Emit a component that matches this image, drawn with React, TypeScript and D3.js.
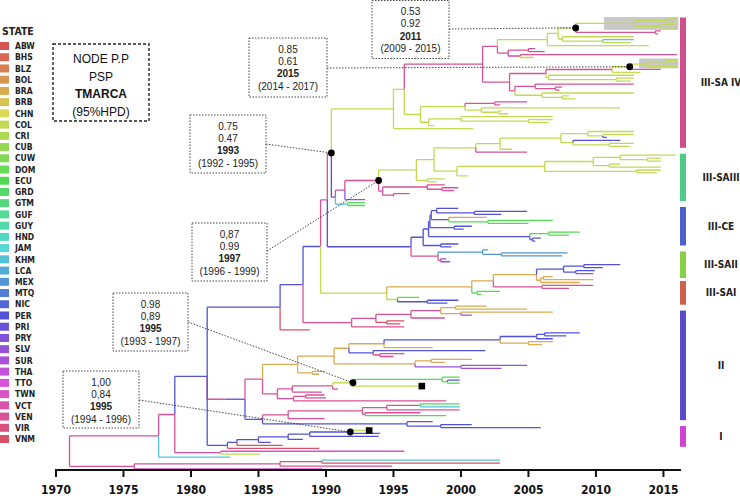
import React, { useMemo } from "react";
import * as d3 from "d3";

const W = 740;
const H = 499;

const states = ["ABW","BHS","BLZ","BOL","BRA","BRB","CHN","COL","CRI","CUB","CUW","DOM","ECU","GRD","GTM","GUF","GUY","HND","JAM","KHM","LCA","MEX","MTQ","NIC","PER","PRI","PRY","SLV","SUR","THA","TTO","TWN","VCT","VEN","VIR","VNM"];

const yearTicks = [1970, 1975, 1980, 1985, 1990, 1995, 2000, 2005, 2010, 2015];

// ---- tree data (Newick-like: STATE@year#tag) ----
const dotA = "(((COL@2016,COL@2016)COL@2015.3,(COL@2015.8,COL@2016)COL@2014.8)COL@2012.9#H1,(VEN@2014.8,VEN@2014.6)VEN@2014.4)COL@2008.5#A";
const q1 = `((${dotA},(COL@2012.8,(KHM@2012.8,COL@2012.6)COL@2010.5)COL@2007.5)COL@2007.2,COL@2013.9)COL@2006.4`;
const q2 = "((VEN@2005.5,VEN@2006.2)VEN@2005,(VEN@2016,COL@2005.4)VEN@2004.4)VEN@2003.5";
const dotB = "(((COL@2016,COL@2016)COL@2015.2,COL@2016)COL@2013.8#H2,VEN@2014.8)COL@2012.5#B";
const r2a = `((${dotB},COL@2013.3)VEN@2011.2,(COL@2012.8,(COL@2012.8,COL@2012.6)COL@2011.5)COL@2006.5)VEN@2006.3`;
const r2b = "((VEN@2012.8,(VEN@2007.5,VEN@2007.3)VEN@2007)VEN@2005.5,(COL@2012.8,(COL@2008,COL@2008.5)COL@2007.5)COL@2006)VEN@2004.0";
const uSub = "(((VEN@2004.9,VEN@2002.9)VEN@2002.5,(COL@2011.8,(COL@2003,COL@2003.5)COL@2002.8)COL@2001.5)COL@2000.3,((COL@2006.8,(COL@2006.8,COL@2006.5)COL@2005)COL@2000.0,COL@1998)COL@1997.6)COL@1997.0";
const cladeSA4 = `((((${q1},${q2})VEN@2002.7,(${r2a},${r2b})VEN@2003.6)VEN@2001.6,${uSub})COL@1995.8,COL@2000.9)COL@1995.0`;

const d1f = "((COL@2012.8,(COL@2012.8,PER@2010.8)COL@2010.5)COL@2009.4,(PER@2011.8,(COL@2012.8,COL@2012.5)COL@2011)COL@2008.3)COL@2007.4";
const d1g = "(((COL@2015.9,(COL@2014.8,COL@2014.8)COL@2013.8)COL@2011.8,(COL@2011.8,COL@2014.8)COL@2011)COL@2009.8,(COL@2014.8,COL@2014.5)COL@2013)COL@2006.2";
const d1 = `((((${d1f},COL@2003.8)COL@2002.9,VEN@2004.9)COL@2001.1,(${d1g},COL@2000.5)COL@1999.7)COL@1998.0,(COL@1998.8,COL@1998.2)COL@1997.5)COL@1996.7`;
const d2 = "((VEN@1998.8,(VEN@1999.8,VEN@1999.5)VEN@1998.6)VEN@1997.5,(VEN@1996.2,VEN@1995)VEN@1995.0)VEN@1994.2";
const cladeSA3 = `(((${d1},${d2})VEN@1993.9#D,SLV@1992.9)VEN@1991.4,(ECU@1992.9,ECU@1992.9)KHM@1991.6)PER@1990.7`;

const ceA = "((PER@1999.8,(PER@2004.9,PER@2003)PER@2001)PER@1998.2,(BRA@2001.9,(ECU@2006.8,ECU@2005)ECU@2002)PER@1999.1)PER@1997.8";
const ceC = `((${ceA},(PER@2000.8,PER@2000.2)PER@1999.5)PER@1997.7,((ECU@2008.8,ECU@2008)ECU@2006.5,(PER@2005.9,PER@2005.5)PER@2005.3)PER@2005.1)PER@1997.6`;
const ceM = "((MEX@2002,(MEX@2007.9,MEX@2007.5)MEX@2003)MEX@2001.6,(SLV@1998.9,SLV@1999.2)VEN@1998.5)VEN@1998.3";
const cladeCE = `((${ceC},(PER@1999.8,PER@1999.3)PER@1998.5)PER@1997.2,${ceM})PER@1996.3`;

const sa3 = "((PER@2011.8,PER@2010.5)PER@2009.1,(PER@2009.9,SLV@2009.8)PER@2008.5)PER@2007.6";
const cladeSA2 = `((((${sa3},((BRA@2006.8,BRA@2009.8)BRA@2006.1,BRA@2008.8)BRA@2005.9)BRA@2005.6,(VEN@2009.8,VEN@2008)VEN@2006)BRA@2002.4,(ECU@2002.9,ECU@2001.5)ECU@2001.2)BRA@2000.8,(ECU@1996.9,(PER@1999.8,PER@1999)PER@1997.5)COL@1995.3)COL@1994.5`;

const g440 = "((BRA@2001.9,BRA@2004.9)BRA@1999.6,(BRA@2006.8,SLV@2000.8)BRA@2000)VEN@1998.5";
const cladeSA1 = `(((${g440},VEN@1998.8)VEN@1996.3,(VNM@1995.8,VNM@1995.5)VNM@1994.5)VEN@1993.7,VEN@1995.8)VEN@1991.9`;

const o5 = "(((((PER@2008.8,PER@2007.8)PER@2006.2,PER@2006.8)PER@2005.6,(BRA@2006.8,BRA@2006)BRA@2005)PER@2002.9,BRA@1997.9)BRA@1994.3";
const o4 = "((BRA@2000.8,BRA@1998.8)BRA@1997.8,(SLV@2004.9,SLV@2003)SLV@2000)BRA@1996.6";
const o1 = `(((${o5},(PER@2001.8,(VEN@1995.8,VEN@1995)VEN@1994)PER@1993.5)BRA@1991.7,${o4})BRA@1990.6,(BRA@1989.9,BRA@1989.5)BRA@1989)BRA@1987.9`;
const dotE = "((ECU@1999.9,(PER@1999.9,ECU@1999.9)ECU@1999.0)ECU@1998.6,COL@1997.1#sq)COL@1992.0#E";
const p1 = `(((${dotE},VEN@1990.9)VEN@1990.5,VEN@1989.7)VEN@1987.5,((VEN@1989.9,VEN@1990.0)VEN@1988.5,VEN@1998.9)VEN@1987.6)VEN@1986.4`;
const pkA = "(((ECU@1999.9,KHM@1999.9)VEN@1997.0,VEN@1999.9)VEN@1994.5,(VEN@1997.0,ECU@1998.9)VEN@1992.9)VEN@1992.7";
const cladeII = `((${o1},${p1})VEN@1985.3,((${pkA},VEN@1989.9)VEN@1987.2,(PER@1997.9,(PER@2000.8,PER@2005.9)PER@1998.5)PER@1996.0)PER@1985.3)PER@1984.0`;

const dotF = "(COL@1993.2#sq,PER@1994.0)PER@1991.8#F";
const cladeI = `(((((${dotF},PER@1993.9)PER@1988.8,PER@1988.3)PER@1987.2,PER@1985.9)PER@1985.0,VNM@1986.8)PER@1983.4,VNM@1989.5)PER@1982.7`;

const basalA = "(TWN@1995.8,COL@1985.1)VEN@1982.2";
const basalB = "(((KHM@2002.9,VNM@2002.9)VNM@1989.7,VEN@1994.9)VEN@1986.6,TWN@1989.7)VEN@1975.8";

const backbone = `((((((((((((${cladeSA4},${cladeSA3})VEN@1990.4#C,${cladeCE})VEN@1990.1,${cladeSA2})PER@1989.6,${cladeSA1})PER@1988.3,VNM@1988.8)PER@1986.6,${cladeII})VEN@1982.5,${cladeI})PER@1981.2,${basalA})VEN@1978.8,KHM@1982.9)VEN@1977.6,${basalB})VEN@1971.0`;

// clade bars (by tip index)
const cladeNames = ["III-SA IV", "III-SAIII", "III-CE", "III-SAII", "III-SAI", "II", "I"];
const cladeFirstTip = [0, 46, 64, 79, 89, 99, 138];
const cladeLastTip = [43, 61, 76, 87, 96, 135, 144];
const cladeColors = ["#cf4f8c", "#4fcb83", "#4c5fcc", "#8acf43", "#d0604c", "#5b4bcc", "#d043d0"];

// highlighted subtrees
const highlightNodes = ["H1", "H2"];
const highlightFrom = [2010.6, 2013.2];

// node annotations
const annNodes = ["A", "B", "C", "D", "E", "F"];
const annPP = ["0.53", "0.85", "0.75", "0,87", "0.98", "1,00"];
const annPSP = ["0.92", "0.61", "0.47", "0.99", "0,89", "0,84"];
const annTMRCA = ["2011", "2015", "1993", "1997", "1995", "1995"];
const annHPD = ["(2009 - 2015)", "(2014 - 2017)", "(1992 - 1995)", "(1996 - 1999)", "(1993 - 1997)", "(1994 - 1996)"];
// box placement: [x, y, w, h, leaderY]
const annBoxes = [
  [372, 0.5, 77, 58, 29],
  [249, 38, 78, 59, 68],
  [190, 115, 76, 58, 144],
  [192, 223, 75, 58, 251],
  [113, 293, 75, 58, 322],
  [63, 371, 76, 57, 400],
];

type TNode = { children: TNode[]; state: string; t: number; tag?: string; yi: number; parent: TNode | null };

function parse(src: string): TNode {
  const s = src.replace(/\s+/g, "");
  let i = 0;
  function node(): TNode {
    const n: TNode = { children: [], state: "", t: 0, yi: 0, parent: null };
    if (s[i] === "(") {
      i++;
      n.children.push(node());
      while (s[i] === ",") {
        i++;
        n.children.push(node());
      }
      i++;
    }
    const start = i;
    while (i < s.length && !",()".includes(s[i])) i++;
    const lab = s.slice(start, i);
    const [main, tag] = lab.split("#");
    const [st, yr] = main.split("@");
    n.state = st;
    n.t = +yr;
    n.tag = tag;
    return n;
  }
  return node();
}

const stateColor = (s: string) => d3.hsl(states.indexOf(s) * 10, 0.64, 0.586).formatHex();

const FONT = "'Liberation Sans', Arial, sans-serif";
const NARROW = "'Liberation Sans Narrow', 'DejaVu Sans Condensed', 'Liberation Sans', Arial, sans-serif";

export default function App() {
  const { root, tips, nodes } = useMemo(() => {
    const r = parse(backbone);
    const tipList: TNode[] = [];
    const all: TNode[] = [];
    const walk = (n: TNode, p: TNode | null) => {
      n.parent = p;
      all.push(n);
      if (!n.children.length) {
        n.yi = tipList.length;
        tipList.push(n);
      } else {
        n.children.forEach((c) => walk(c, n));
        n.yi = (n.children[0].yi + n.children[n.children.length - 1].yi) / 2;
      }
    };
    walk(r, null);
    return { root: r, tips: tipList, nodes: all };
  }, []);

  const x = d3.scaleLinear().domain([1970, 2016.3]).range([56, 681]);
  const y = d3.scaleLinear().domain([0, tips.length - 1]).range([19, 469]);
  const axisY = 470;

  const byTag = (tag: string) => nodes.find((n) => n.tag === tag)!;
  const tipRange = (n: TNode): [number, number] => {
    let lo = Infinity, hi = -Infinity;
    const w = (m: TNode) => {
      if (!m.children.length) { lo = Math.min(lo, m.yi); hi = Math.max(hi, m.yi); }
      m.children.forEach(w);
    };
    w(n);
    return [lo, hi];
  };

  const legendY = d3.scaleLinear().domain([0, states.length - 1]).range([46, 439]);

  return (
    <svg width={W} height={H} style={{ position: "absolute", left: 0, top: 0, background: "#fff" }}>
      {/* legend */}
      <text x={2} y={35} fontFamily={NARROW} fontWeight="bold" fontSize={10.5} fill="#222">STATE</text>
      {states.map((s, i) => (
        <g key={s}>
          <rect x={0} y={legendY(i) - 4} width={9} height={8} fill={stateColor(s)} />
          <text x={15} y={legendY(i) + 3.2} fontFamily={NARROW} fontWeight="bold" fontSize={8.5} fill="#222">{s}</text>
        </g>
      ))}

      {/* key box */}
      <rect x={53} y={44} width={96} height={77} fill="none" stroke="#222" strokeWidth={1.4} strokeDasharray="3 2" />
      {["NODE P.P", "PSP", "TMARCA", "(95%HPD)"].map((t, i) => (
        <text key={t} x={101} y={63 + i * 17.5} textAnchor="middle" fontFamily={FONT} fontSize={12}
          fontWeight={i === 2 ? "bold" : "normal"} fill="#111">{t}</text>
      ))}

      {/* highlights */}
      {highlightNodes.map((tag, i) => {
        const n = byTag(tag);
        const [lo, hi] = tipRange(n);
        return (
          <rect key={tag} x={x(highlightFrom[i])} y={y(lo) - 2} width={x(2016.1) - x(highlightFrom[i])}
            height={y(hi) - y(lo) + 4} fill="#c8c8c8" />
        );
      })}

      {/* tree */}
      <g fill="none" strokeWidth={1.3}>
        <path d={`M${x(1970.6)},${y(root.yi)}H${x(root.t)}`} stroke={stateColor(root.state)} />
        {nodes.filter((n) => n.parent).map((n, i) => (
          <path key={i} d={`M${x(n.parent!.t)},${y(n.yi)}H${x(n.t)}M${x(n.parent!.t)},${y(n.parent!.yi)}V${y(n.yi)}`}
            stroke={stateColor(n.state)} />
        ))}
      </g>

      {/* leaders */}
      {annNodes.map((tag, i) => {
        const n = byTag(tag);
        const b = annBoxes[i];
        return (
          <line key={"l" + tag} x1={b[0] + b[2]} y1={b[4]} x2={x(n.t)} y2={y(n.yi)} stroke="#333"
            strokeWidth={0.9} strokeDasharray="1.5 1.5" />
        );
      })}

      {/* dots & squares */}
      {annNodes.map((tag) => {
        const n = byTag(tag);
        return <circle key={"d" + tag} cx={x(n.t)} cy={y(n.yi)} r={3.4} fill="#000" />;
      })}
      {nodes.filter((n) => n.tag === "sq").map((n, i) => (
        <rect key={"s" + i} x={x(n.t) - 3.3} y={y(n.yi) - 3.3} width={6.6} height={6.6} fill="#000" />
      ))}

      {/* annotation boxes */}
      {annNodes.map((tag, i) => {
        const b = annBoxes[i];
        const cx = b[0] + b[2] / 2;
        const lines = [annPP[i], annPSP[i], annTMRCA[i], annHPD[i]];
        return (
          <g key={"b" + tag}>
            <rect x={b[0]} y={b[1]} width={b[2]} height={b[3]} fill="#fff" stroke="#333" strokeWidth={0.9}
              strokeDasharray="1.5 1.5" />
            {lines.map((t, j) => (
              <text key={j} x={cx} y={b[1] + 14.5 + j * 12.4} textAnchor="middle" fontFamily={FONT}
                fontSize={10} fontWeight={j === 2 ? "bold" : "normal"} fill="#222">{t}</text>
            ))}
          </g>
        );
      })}

      {/* clade bars */}
      {cladeNames.map((c, i) => {
        const y0 = y(cladeFirstTip[i]) - 1.5;
        const y1 = y(cladeLastTip[i]) + 1.5;
        return (
          <g key={c}>
            <rect x={x(2016.3) - 1} y={y0} width={6} height={y1 - y0} fill={cladeColors[i]} />
            <text x={721} y={(y0 + y1) / 2 + 3.5} textAnchor="middle" fontFamily={NARROW} fontWeight="bold"
              fontSize={10} fill="#222">{c}</text>
          </g>
        );
      })}

      {/* axis */}
      <line x1={x(1970)} x2={x(2016.3)} y1={axisY} y2={axisY} stroke="#111" strokeWidth={2} />
      {yearTicks.map((t) => (
        <g key={t}>
          <line x1={x(t)} x2={x(t)} y1={axisY - 1} y2={axisY + 7} stroke="#111" strokeWidth={2} />
          <text x={x(t)} y={494} textAnchor="middle" fontFamily={NARROW} fontWeight="bold" fontSize={12}
            fill="#111">{t}</text>
        </g>
      ))}
    </svg>
  );
}
